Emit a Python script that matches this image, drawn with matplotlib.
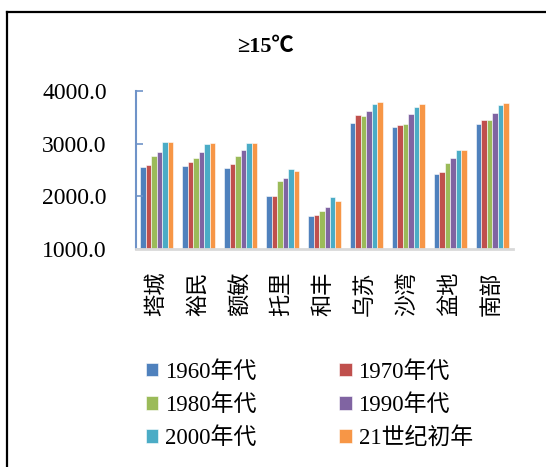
import numpy as np
import matplotlib.pyplot as plt
from matplotlib.patches import Patch
from matplotlib.lines import Line2D

plt.rcParams['font.family'] = ['Liberation Serif', 'Noto Sans CJK SC', 'DejaVu Sans']

stations = ['塔城', '裕民', '额敏', '托里', '和丰', '乌苏', '沙湾', '盆地', '南部']
decades = ['1960年代', '1970年代', '1980年代', '1990年代', '2000年代', '21世纪初年']
colors = ['#4F81BD', '#C0504D', '#9BBB59', '#8064A2', '#4BACC6', '#F79646']

v1960 = [2550, 2580, 2537, 2008, 1630, 3393, 3318, 2423, 3363]
v1970 = [2600, 2650, 2606, 2008, 1648, 3539, 3350, 2467, 3439]
v1980 = [2758, 2732, 2764, 2285, 1718, 3514, 3369, 2631, 3439]
v1990 = [2845, 2840, 2877, 2354, 1806, 3608, 3552, 2732, 3577]
v2000 = [3023, 2990, 3009, 2512, 1983, 3741, 3696, 2883, 3722]
v2010 = [3035, 3003, 3009, 2474, 1919, 3779, 3752, 2877, 3766]
series = [v1960, v1970, v1980, v1990, v2000, v2010]

fig = plt.figure(figsize=(5.46, 4.67), dpi=100)
ax = fig.add_axes([0.2491, 0.4662, 0.6905, 0.3396])

x = np.arange(len(stations))
w = 0.131
for i, (vals, c) in enumerate(zip(series, colors)):
    base = 1000
    ax.bar(x + (i - 2.5) * w, np.array(vals) - base, w, bottom=base,
           color=c, edgecolor='white', linewidth=0.4, label=decades[i])

ax.set_xlim(-0.5, len(stations) - 0.5)
ax.set_ylim(1000, 4000)
ax.set_yticks([1000, 2000, 3000, 4000])
ax.set_yticklabels(['%.1f' % t for t in [1000, 2000, 3000, 4000]], fontsize=17)
ax.set_xticks(x)
ax.set_xticklabels(stations, rotation=90, fontsize=16)
ax.tick_params(axis='x', length=0, pad=16)
ax.tick_params(axis='y', direction='in', length=5, color='#6F93C8', width=1.2, pad=21)

for s in ['top', 'right']:
    ax.spines[s].set_visible(False)
ax.spines['left'].set_color('#6F93C8')
ax.spines['left'].set_linewidth(1.5)
ax.spines['bottom'].set_color('#D9D9D9')
ax.spines['bottom'].set_linewidth(2)

fig.text(0.487, 0.899, '≥15℃', ha='center', va='center', fontsize=16, fontweight='bold')

# row-major order like the original legend
order = [0, 2, 4, 1, 3, 5]
handles = [Patch(facecolor=colors[k], edgecolor='white', linewidth=0.4) for k in order]
labels = [decades[k] for k in order]
fig.legend(handles, labels, loc='upper left', bbox_to_anchor=(0.25, 0.247),
           ncol=2, frameon=False, fontsize=16.5, handlelength=0.55, handleheight=0.55,
           handletextpad=0.3, columnspacing=3.6, labelspacing=0.5, borderaxespad=0)

fig.add_artist(Line2D([7 / 546, 7 / 546], [0, 1 - 12 / 467], color='black', lw=1.6))
fig.add_artist(Line2D([7 / 546, 1], [1 - 12 / 467, 1 - 12 / 467], color='black', lw=1.6))

fig.savefig('out.png', dpi=100)
